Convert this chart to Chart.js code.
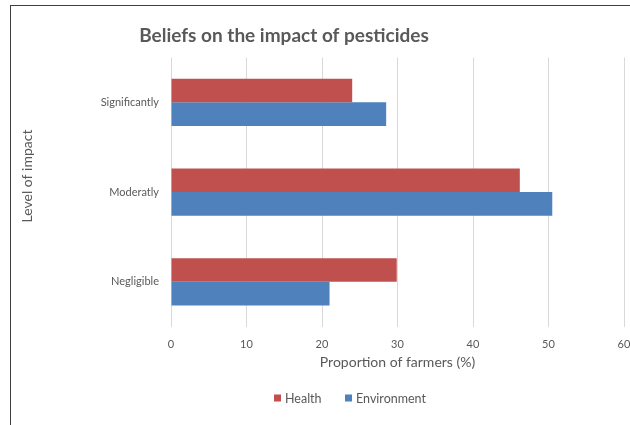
<!DOCTYPE html>
<html>
<head>
<meta charset="utf-8">
<script src="https://cdn.jsdelivr.net/npm/chart.js@4.4.1/dist/chart.umd.min.js"></script>
<style>
  html, body { margin: 0; padding: 0; background: #fff; }
  #wrap { position: relative; width: 630px; height: 425px; overflow: hidden; }
  #frame { position: absolute; left: 10px; top: 5px; width: 640px; height: 440px;
           border-top: 1.5px solid #404040; border-left: 1.5px solid #404040; box-sizing: border-box; pointer-events: none; }
  canvas { position: absolute; left: 0; top: 0; }
</style>
</head>
<body>
<div id="wrap">
  <canvas id="c" width="630" height="425"></canvas>
  <div id="frame"></div>
</div>
<script>
const categories = ['Significantly', 'Moderatly', 'Negligible'];
const healthValues = [24.0, 46.2, 29.9];
const environmentValues = [28.5, 50.5, 21.0];
const seriesNames = ['Health', 'Environment'];
const xTickMin = 0, xTickMax = 60, xTickStep = 10;
const chartTitle = 'Beliefs on the impact of pesticides';
const xAxisTitle = 'Proportion of farmers (%)';
const yAxisTitle = 'Level of impact';

const RED = '#C0504D', BLUE = '#4F81BD', TXT = '#595959';
const FONT = 'Lato, "Open Sans", sans-serif';

const extras = {
  id: 'extras',
  afterDraw(chart) {
    const ctx = chart.ctx;
    ctx.save();
    ctx.fillStyle = TXT;
    ctx.font = 'bold 19px ' + FONT;
    ctx.textAlign = 'center';
    ctx.textBaseline = 'middle';
    ctx.fillText(chartTitle, 284, 36);
    ctx.save();
    ctx.translate(27, 176);
    ctx.rotate(-Math.PI / 2);
    ctx.font = '14px ' + FONT;
    ctx.fillText(yAxisTitle, 0, 0);
    ctx.restore();
    ctx.font = '12.5px ' + FONT;
    ctx.textAlign = 'left';
    const items = [
      { name: seriesNames[0], color: RED, x: 274 },
      { name: seriesNames[1], color: BLUE, x: 345 }
    ];
    items.forEach(it => {
      ctx.fillStyle = it.color;
      ctx.fillRect(it.x, 394.5, 7, 7);
      ctx.fillStyle = TXT;
      ctx.fillText(it.name, it.x + 11, 398.5);
    });
    ctx.restore();
  }
};

const chart = new Chart(document.getElementById('c'), {
  type: 'bar',
  data: {
    labels: categories,
    datasets: [
      { label: seriesNames[0], data: healthValues, backgroundColor: RED, borderWidth: 0 },
      { label: seriesNames[1], data: environmentValues, backgroundColor: BLUE, borderWidth: 0 }
    ]
  },
  options: {
    indexAxis: 'y',
    responsive: false,
    devicePixelRatio: 1,
    animation: false,
    layout: { padding: { left: 10, right: 0, top: 57.5, bottom: 54.6 } },
    datasets: { bar: { categoryPercentage: 0.525, barPercentage: 1.0 } },
    plugins: {
      legend: { display: false },
      title: { display: false },
      tooltip: { enabled: false }
    },
    scales: {
      x: {
        min: xTickMin, max: xTickMax,
        ticks: { stepSize: xTickStep, color: TXT, font: { family: FONT, size: 11 }, padding: 11 },
        grid: { color: '#D9D9D9', drawTicks: false, lineWidth: 1 },
        border: { display: false },
        title: { display: true, text: xAxisTitle, color: TXT, font: { family: FONT, size: 14 }, padding: { top: 0, bottom: 0 } },
        afterFit(s) { s.height = 43.7; s.paddingRight = 6; s.paddingLeft = 0; }
      },
      y: {
        ticks: { color: TXT, font: { family: FONT, size: 11 }, padding: 12 },
        grid: { display: false, drawTicks: false },
        border: { display: false },
        afterFit(s) { s.width = 161; }
      }
    }
  },
  plugins: [extras]
});
</script>
</body>
</html>
